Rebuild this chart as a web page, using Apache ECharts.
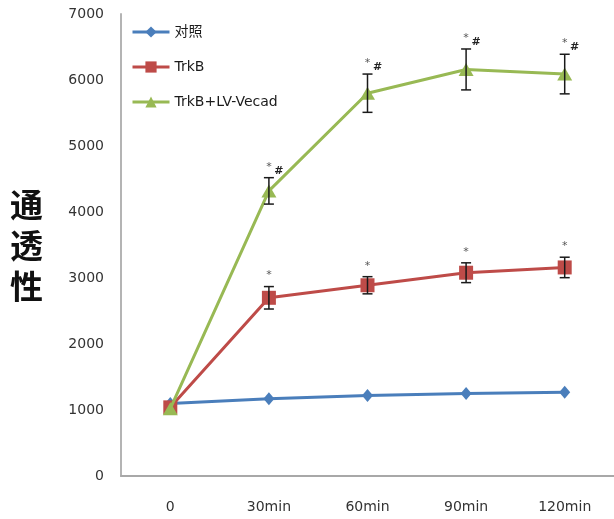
<!DOCTYPE html>
<html>
<head>
<meta charset="utf-8">
<script src="https://cdn.jsdelivr.net/npm/echarts@6/dist/echarts.min.js"></script>
<style>
  html, body { margin: 0; padding: 0; background: #fff; }
  #chart { width: 614px; height: 519px; }
</style>
</head>
<body>
<div id="chart"></div>
<script>
// Time points and group readings (mean ± error)
const categories = ['0', '30min', '60min', '90min', '120min'];
const yTicks = [0, 1000, 2000, 3000, 4000, 5000, 6000, 7000];

const controlName = '对照';
const controlMean = [1100, 1170, 1220, 1250, 1270];

const trkbName = 'TrkB';
const trkbMean = [1040, 2700, 2890, 3080, 3160];
const trkbErr = [0, 170, 130, 150, 155];
const trkbMark = ['', '*', '*', '*', '*'];

const vecadName = 'TrkB+LV-Vecad';
const vecadMean = [1020, 4320, 5800, 6160, 6090];
const vecadErr = [0, 200, 290, 310, 300];
const vecadMark = ['', '*#', '*#', '*#', '*#'];

const FONT = '"DejaVu Sans", "Noto Sans CJK SC", sans-serif';

// Error bars with caps plus significance marks above the upper cap
function errorSeries(mean, err, marks) {
  return {
    type: 'custom',
    z: 5,
    silent: true,
    encode: { x: 0, y: 1 },
    data: mean.map((m, i) => [i, m, err[i]]),
    renderItem: function (params, api) {
      const i = api.value(0), m = api.value(1), e = api.value(2);
      const top = api.coord([i, m + e]);
      const bot = api.coord([i, m - e]);
      const cap = 5;
      const st = { stroke: '#1a1a1a', lineWidth: 1.5 };
      const children = [];
      if (e > 0) {
        children.push(
          { type: 'line', shape: { x1: top[0], y1: top[1], x2: bot[0], y2: bot[1] }, style: st },
          { type: 'line', shape: { x1: top[0] - cap, y1: top[1], x2: top[0] + cap, y2: top[1] }, style: st },
          { type: 'line', shape: { x1: bot[0] - cap, y1: bot[1], x2: bot[0] + cap, y2: bot[1] }, style: st }
        );
      }
      const mk = marks[params.dataIndex];
      if (mk) {
        children.push({
          type: 'text',
          style: { text: '*', x: top[0], y: top[1] - 11, align: 'center', verticalAlign: 'middle',
                   font: '11px ' + FONT, fill: '#555' }
        });
        if (mk.indexOf('#') >= 0) {
          children.push({
            type: 'text',
            style: { text: '#', x: top[0] + 10, y: top[1] - 7, align: 'center', verticalAlign: 'middle',
                     font: 'bold 11px ' + FONT, fill: '#222' }
          });
        }
      }
      return { type: 'group', children: children };
    }
  };
}

const chart = echarts.init(document.getElementById('chart'), null, { renderer: 'canvas' });

chart.setOption({
  animation: false,
  backgroundColor: '#fff',
  grid: { left: 121, top: 14, width: 496, height: 462, containLabel: false },
  legend: {
    orient: 'vertical',
    left: 131,
    top: 25,
    padding: 0,
    itemWidth: 37,
    itemHeight: 14,
    itemGap: 21,
    lineStyle: { width: 3 },
    textStyle: { fontFamily: FONT, fontSize: 14, color: '#1a1a1a' },
    data: [controlName, trkbName, vecadName]
  },
  graphic: [{
    type: 'text',
    left: 10,
    top: 184,
    style: { text: '通\n透\n性', font: 'bold 33px "Noto Sans CJK SC", serif', lineHeight: 41, fill: '#111' }
  }],
  xAxis: {
    type: 'category',
    data: categories,
    boundaryGap: true,
    axisLine: { lineStyle: { color: '#a8a8a8', width: 2 } },
    axisTick: { show: false },
    axisLabel: { margin: 24, fontFamily: FONT, fontSize: 14, color: '#333' },
    splitLine: { show: false }
  },
  yAxis: {
    type: 'value',
    min: yTicks[0],
    max: yTicks[yTicks.length - 1],
    interval: 1000,
    axisLine: { show: true, lineStyle: { color: '#b4b4b4', width: 2 } },
    axisTick: { show: false },
    axisLabel: { margin: 17, fontFamily: FONT, fontSize: 14, color: '#333',
                 formatter: function (v) { return String(v); } },
    splitLine: { show: false }
  },
  series: [
    {
      name: controlName, type: 'line', data: controlMean, z: 2,
      symbol: 'diamond', symbolSize: [11, 13],
      lineStyle: { color: '#4a7ebb', width: 3 },
      itemStyle: { color: '#4a7ebb' }
    },
    {
      name: trkbName, type: 'line', data: trkbMean, z: 3,
      symbol: 'rect', symbolSize: 14,
      lineStyle: { color: '#be4b48', width: 3 },
      itemStyle: { color: '#be4b48' }
    },
    {
      name: vecadName, type: 'line', data: vecadMean, z: 4,
      symbol: 'triangle', symbolSize: [15, 13],
      lineStyle: { color: '#98b954', width: 3 },
      itemStyle: { color: '#98b954' }
    },
    errorSeries(trkbMean, trkbErr, trkbMark),
    errorSeries(vecadMean, vecadErr, vecadMark)
  ]
});
</script>
</body>
</html>
